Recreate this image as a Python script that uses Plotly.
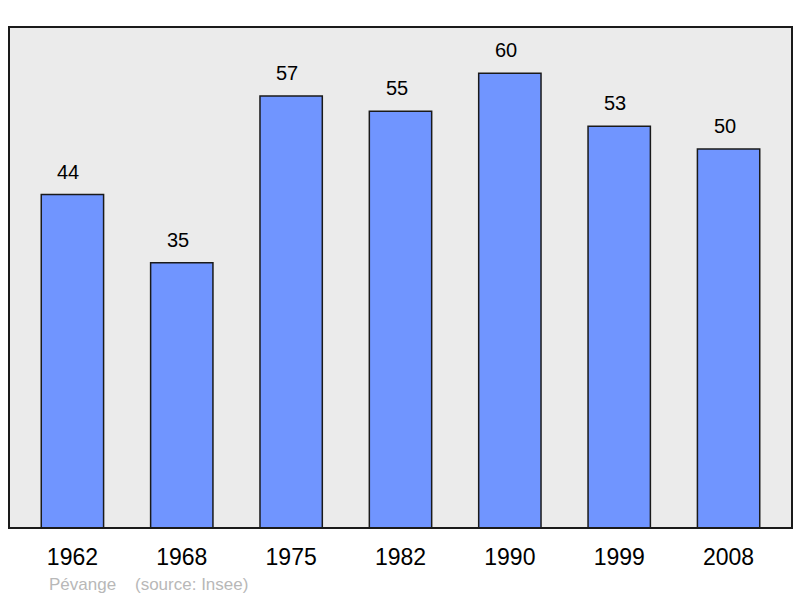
import plotly.graph_objects as go

years = ["1962", "1968", "1975", "1982", "1990", "1999", "2008"]
population = [44, 35, 57, 55, 60, 53, 50]
commune = "Pévange"
source = "(source: Insee)"

FONT = "Liberation Sans, Arial"

fig = go.Figure()

fig.add_trace(go.Bar(
    x=years,
    y=population,
    width=0.57,
    marker=dict(color="#7095ff", line=dict(color="#1a1a1a", width=1.5)),
    hoverinfo="x+y",
))

# value labels above bars (x by index, the years look numeric to plotly)
for i, val in enumerate(population):
    fig.add_annotation(x=i, y=val, text=str(val), showarrow=False,
                       yanchor="bottom", yshift=10, xshift=-4,
                       font=dict(family=FONT, size=20, color="#000"))

fig.add_annotation(xref="paper", yref="paper", x=0.049, y=-0.112,
                   xanchor="left", yanchor="middle", showarrow=False,
                   text=commune + "    " + source,
                   font=dict(family=FONT, size=17, color="#b8b8b8"))

# frame around plot area
fig.add_shape(type="rect", xref="paper", yref="paper", x0=0, y0=0, x1=1, y1=1,
              line=dict(color="#1a1a1a", width=2), layer="above")

fig.update_layout(
    width=800, height=598,
    margin=dict(l=9, r=8, t=27, b=70),
    paper_bgcolor="white",
    plot_bgcolor="#ebebeb",
    showlegend=False,
    xaxis=dict(type="category", range=[-0.58, 6.58], showgrid=False, zeroline=False,
               ticks="", tickfont=dict(family=FONT, size=23, color="#000"),
               ticklabelstandoff=13),
    yaxis=dict(range=[0, 66.1], showgrid=False, zeroline=False, showticklabels=False, ticks=""),
)

fig.write_html("out.html", config={"displayModeBar": False},
               post_script="document.body.style.margin='0';")
